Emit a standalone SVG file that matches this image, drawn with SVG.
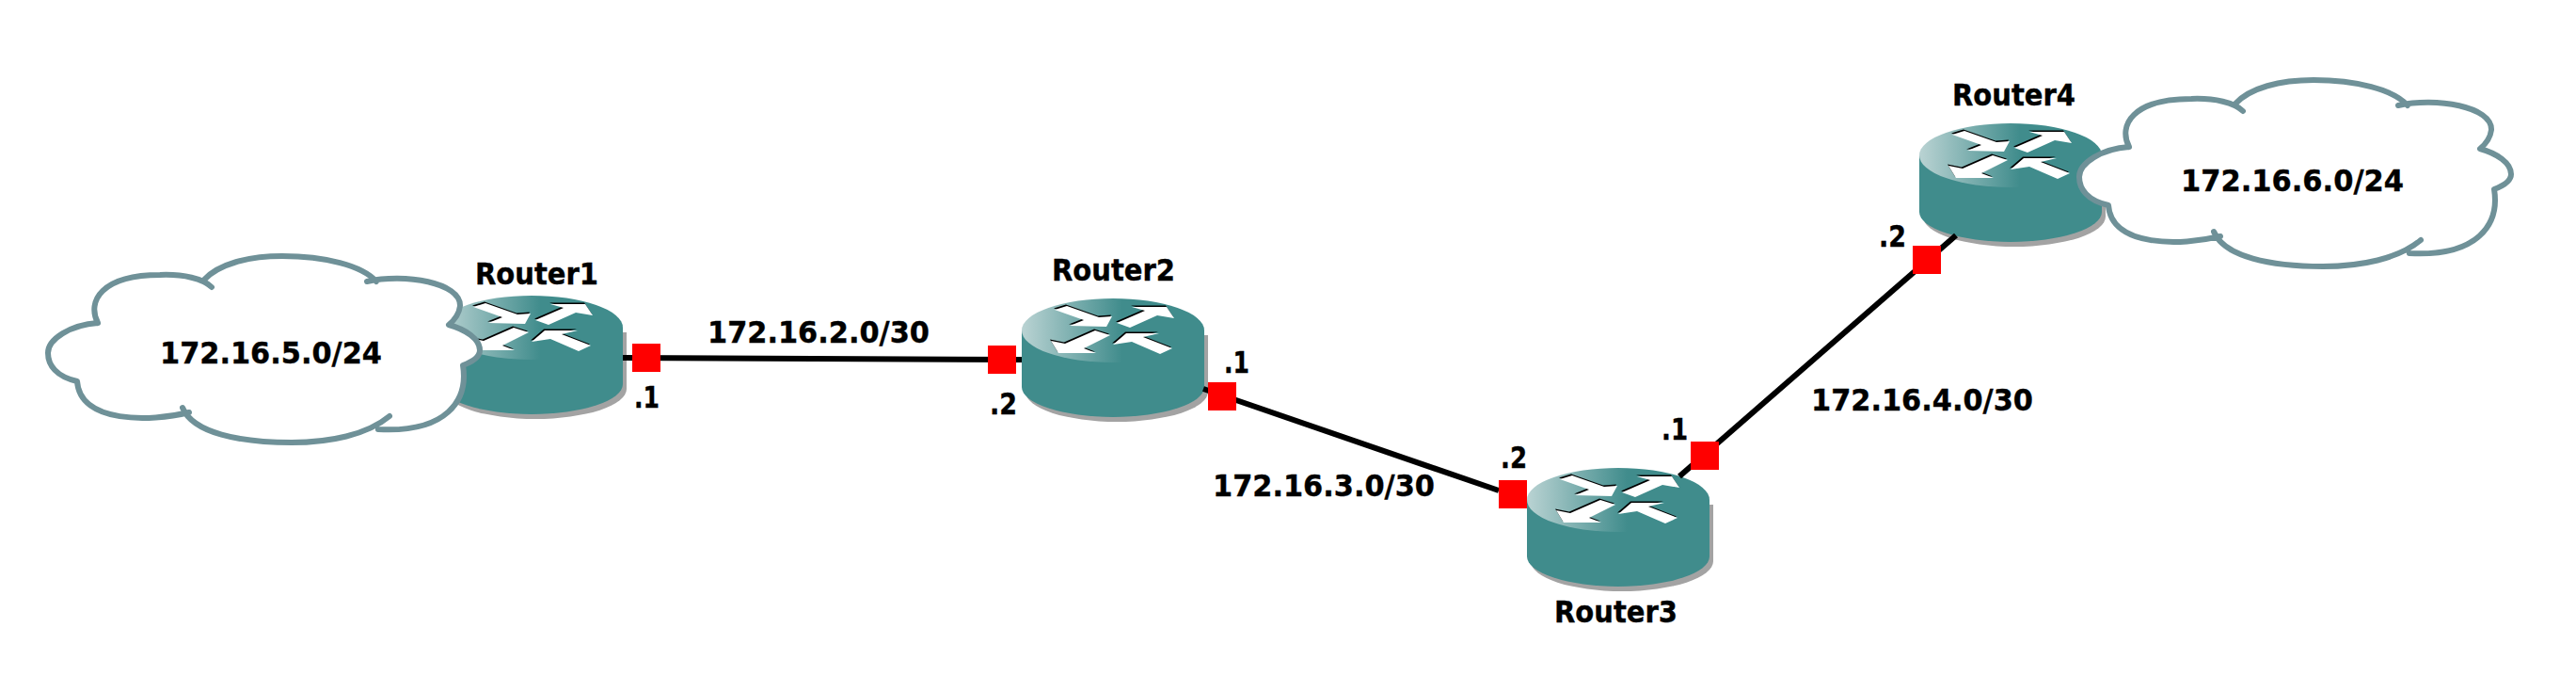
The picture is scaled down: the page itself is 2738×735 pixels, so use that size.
<svg xmlns="http://www.w3.org/2000/svg" width="2738" height="735" viewBox="0 0 2738 735">
<style>
text{font-family:"DejaVu Sans",Verdana,sans-serif;font-weight:700;fill:#000;font-size:32px;stroke:#000;stroke-width:.4px}
.wire{fill:none;stroke:#000;stroke-width:6}
.port{fill:#f00}
.cloud-fill{fill:#fff}
.cloud-line{fill:none;stroke:#6f9198;stroke-width:6;stroke-linecap:round;stroke-linejoin:round}
</style>
<defs>
<linearGradient id="top" x1="0" y1="0" x2="1" y2="0">
<stop offset="0" stop-color="#bad3d3"/><stop offset="0.55" stop-color="#408c8c"/><stop offset="1" stop-color="#408c8c"/>
</linearGradient>
<path id="arrows" d="M35 12L48 8L82 20L96 19L90 30L51 29L66 23ZM101 26L115 31L144 18L162 21L154 9L117 9L131 13ZM78 34L94 39L66 53L79 58L39 58L31 45L46 48ZM160 53L147 59L117 46L97 49L111 37L146 37L129 41Z"/>
<g id="router">
<path d="M4 39V99A97 32 0 0 0 198 99V39Z" fill="#a3a3a3"/>
<path d="M0 34V94A97 32 0 0 0 194 94V34Z" fill="#408c8c"/>
<ellipse cx="97" cy="34" rx="97" ry="34" fill="url(#top)"/>
<use href="#arrows" x="-1" y="-1.5" fill="#000"/>
<use href="#arrows" fill="#fff"/>
</g>
<g id="cloud">
<path class="cloud-fill" d="M104 343C92 320 108 292 170 292C190 291 205 294 216 298C232 280 265 272 300 272C345 272 385 282 400 299C430 290 490 300 489 325C488 333 483 340 477 345C495 350 510 360 510 372C510 380 500 385 492 388C498 425 475 460 402 456C390 462 350 470 310 470C255 470 205 460 194 433C160 448 85 450 82 405C60 400 51 388 51 375C51 360 75 345 104 343Z"/>
<path class="cloud-line" d="M104 343C92 320 108 292 170 292C195 291 216 296 225 305M216 298C232 280 265 272 300 272C345 272 385 282 400 299M390 299C430 290 490 300 489 325C488 333 483 340 477 345C495 350 510 360 510 372C510 380 500 385 492 388C498 425 475 460 402 456M414 442C390 462 350 470 310 470C255 470 205 460 194 433M201 438C160 448 85 450 82 405C60 400 51 388 51 375C51 360 75 345 104 343"/>
</g>
</defs>
<g id="router1"><use href="#router" x="468" y="314"/><text x="505" y="302" textLength="131" lengthAdjust="spacingAndGlyphs">Router1</text></g>
<g id="router2"><use href="#router" x="1086" y="317"/><text x="1118" y="298" textLength="131" lengthAdjust="spacingAndGlyphs">Router2</text></g>
<g id="router3"><use href="#router" x="1623" y="497"/><text x="1652" y="661" textLength="131" lengthAdjust="spacingAndGlyphs">Router3</text></g>
<g id="router4"><use href="#router" x="2040" y="131"/><text x="2075" y="112" textLength="131" lengthAdjust="spacingAndGlyphs">Router4</text></g>
<g id="connectors">
<path class="wire" d="M662 380L1086 382"/>
<path class="wire" d="M1279 413L1593 521"/>
<path class="wire" d="M1785 506L2079 250"/>
</g>
<g id="ports">
<rect class="port" x="672" y="365" width="30" height="30"/>
<rect class="port" x="1050" y="367" width="30" height="30"/>
<rect class="port" x="1284" y="406" width="30" height="30"/>
<rect class="port" x="1593" y="510" width="30" height="30"/>
<rect class="port" x="1797" y="469" width="30" height="30"/>
<rect class="port" x="2033" y="261" width="30" height="30"/>
</g>
<g id="cloud1"><use href="#cloud"/><text x="170" y="386" textLength="236" lengthAdjust="spacingAndGlyphs">172.16.5.0/24</text></g>
<g id="cloud2"><use href="#cloud" x="2159" y="-187"/><text x="2318" y="203" textLength="237" lengthAdjust="spacingAndGlyphs">172.16.6.0/24</text></g>
<g id="labels">
<text x="752" y="364" textLength="236" lengthAdjust="spacingAndGlyphs">172.16.2.0/30</text>
<text x="1289" y="527" textLength="236" lengthAdjust="spacingAndGlyphs">172.16.3.0/30</text>
<text x="1925" y="436" textLength="236" lengthAdjust="spacingAndGlyphs">172.16.4.0/30</text>
<text x="674" y="433" textLength="27" lengthAdjust="spacingAndGlyphs">.1</text>
<text x="1052" y="440" textLength="29" lengthAdjust="spacingAndGlyphs">.2</text>
<text x="1301" y="396" textLength="27" lengthAdjust="spacingAndGlyphs">.1</text>
<text x="1595" y="497" textLength="28" lengthAdjust="spacingAndGlyphs">.2</text>
<text x="1766" y="467" textLength="28" lengthAdjust="spacingAndGlyphs">.1</text>
<text x="1997" y="262" textLength="29" lengthAdjust="spacingAndGlyphs">.2</text>
</g>
</svg>
